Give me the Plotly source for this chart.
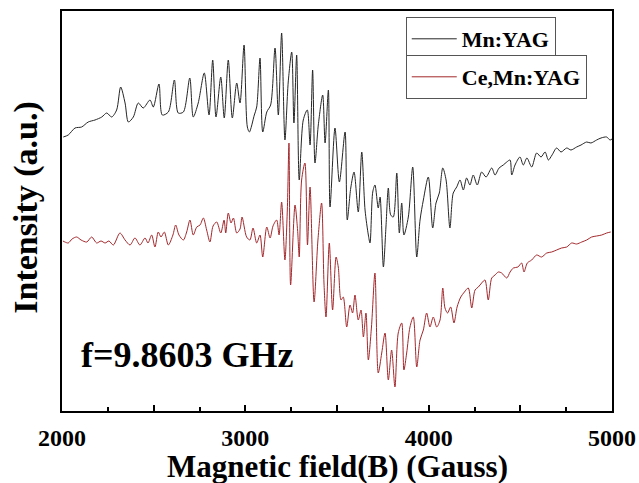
import plotly.graph_objects as go

# EPR spectra, 9.8603 GHz, field in Gauss, intensity in arbitrary units
field_mn = [2007, 2034, 2071, 2107, 2143, 2180, 2217, 2244, 2271, 2298, 2320, 2344, 2362, 2389,
            2416, 2443, 2480, 2498, 2529, 2547, 2580, 2613, 2634, 2662, 2697, 2716, 2743, 2776,
            2802, 2822, 2840, 2866, 2885, 2907, 2929, 2953, 2971, 2993, 3011, 3022, 3049, 3062,
            3080, 3095, 3117, 3138, 3162, 3180, 3198, 3216, 3234, 3253, 3265, 3280, 3294, 3316,
            3338, 3353, 3367, 3380, 3398, 3422, 3435, 3453, 3462, 3489, 3513, 3544, 3556, 3575,
            3593, 3616, 3635, 3653, 3671, 3680, 3695, 3707, 3725, 3735, 3753, 3767, 3780, 3793,
            3807, 3826, 3840, 3853, 3865, 3889, 3913, 3935, 3953, 3971, 3998, 4022, 4040, 4058,
            4077, 4095, 4116, 4134, 4153, 4171, 4189, 4207, 4225, 4243, 4265, 4289, 4313, 4344,
            4362, 4384, 4407, 4426, 4444, 4453, 4471, 4498, 4516, 4536, 4562, 4589, 4613, 4635,
            4653, 4673, 4698, 4722, 4753, 4776, 4807, 4831, 4862, 4885, 4916, 4940, 4971, 4989,
            5000]
intensity_mn = [274, 276, 283, 284, 289, 291, 294, 298, 294, 301, 324, 308, 289, 294,
                308, 303, 311, 304, 327, 296, 299, 331, 298, 299, 333, 294, 308, 338,
                296, 351, 294, 334, 293, 351, 293, 328, 308, 366, 284, 279, 296, 304,
                353, 279, 299, 306, 363, 296, 378, 271, 329, 359, 288, 356, 231, 291,
                301, 266, 341, 248, 286, 316, 268, 321, 204, 283, 229, 279, 191, 223,
                239, 199, 259, 201, 176, 168, 219, 226, 203, 214, 144, 184, 223, 196,
                194, 238, 178, 208, 176, 194, 244, 154, 191, 211, 234, 183, 208, 218,
                243, 231, 183, 218, 224, 231, 221, 233, 226, 236, 226, 239, 234, 243,
                236, 243, 246, 249, 251, 236, 246, 254, 246, 253, 244, 258, 254, 259,
                251, 256, 263, 259, 263, 261, 264, 266, 269, 268, 271, 273, 274, 271,
                272]

field_ce = [2005, 2016, 2034, 2055, 2080, 2104, 2135, 2162, 2189, 2213, 2235, 2256, 2280, 2316,
            2344, 2371, 2398, 2425, 2453, 2469, 2489, 2507, 2525, 2540, 2558, 2580, 2605, 2620,
            2638, 2662, 2680, 2698, 2716, 2735, 2753, 2771, 2789, 2807, 2824, 2844, 2866, 2884,
            2893, 2907, 2922, 2935, 2953, 2971, 2982, 3007, 3025, 3042, 3062, 3080, 3095, 3117,
            3135, 3151, 3171, 3184, 3198, 3216, 3229, 3238, 3247, 3271, 3285, 3294, 3307, 3325,
            3339, 3353, 3375, 3396, 3416, 3429, 3440, 3458, 3476, 3495, 3507, 3522, 3534, 3553,
            3571, 3585, 3598, 3616, 3631, 3644, 3658, 3671, 3688, 3707, 3725, 3744, 3762, 3780,
            3798, 3816, 3834, 3853, 3865, 3880, 3898, 3916, 3935, 3953, 3971, 3989, 4007, 4025,
            4044, 4062, 4077, 4089, 4103, 4120, 4138, 4155, 4175, 4195, 4216, 4235, 4253, 4271,
            4289, 4307, 4325, 4344, 4362, 4380, 4398, 4426, 4444, 4462, 4487, 4507, 4520, 4538,
            4562, 4589, 4616, 4644, 4671, 4698, 4725, 4753, 4780, 4807, 4835, 4862, 4889, 4916,
            4944, 4971, 4993]
intensity_ce = [170, 169, 168, 172, 174, 171, 169, 174, 168, 170, 168, 170, 166, 178,
                171, 166, 173, 166, 173, 168, 176, 164, 179, 174, 179, 166, 176, 186,
                176, 171, 179, 191, 176, 184, 186, 193, 181, 169, 185, 189, 178, 191,
                178, 198, 188, 193, 178, 182, 194, 174, 171, 183, 168, 176, 154, 184,
                173, 185, 191, 176, 209, 151, 201, 268, 126, 206, 181, 154, 231, 248,
                166, 224, 109, 171, 208, 128, 94, 168, 101, 154, 144, 111, 114, 84,
                106, 98, 116, 91, 101, 74, 98, 51, 84, 138, 38, 58, 78, 31,
                61, 24, 78, 88, 41, 58, 84, 94, 44, 71, 81, 98, 84, 94,
                84, 91, 123, 103, 98, 104, 88, 104, 114, 119, 123, 103, 121, 124,
                128, 131, 111, 133, 136, 139, 138, 133, 139, 143, 144, 148, 139, 148,
                151, 156, 154, 158, 159, 161, 163, 164, 168, 167, 169, 171, 174, 175,
                176, 178, 179]

tick_vals = [2000, 2500, 3000, 3500, 4000, 4500, 5000]
tick_text = ["2000", "", "3000", "", "4000", "", "5000"]

serif = "Liberation Serif"

fig = go.Figure()
fig.add_trace(go.Scatter(x=field_mn, y=intensity_mn, mode="lines", name="Mn:YAG",
                         line=dict(color="#262626", width=1, shape="spline", smoothing=0.8),
                         legend="legend", showlegend=True))
fig.add_trace(go.Scatter(x=field_ce, y=intensity_ce, mode="lines", name="Ce,Mn:YAG",
                         line=dict(color="#a3282c", width=1, shape="spline", smoothing=0.8),
                         legend="legend2", showlegend=True))

legend_style = dict(font=dict(family=serif, size=22, color="black", weight="bold"),
                    bordercolor="#555555", borderwidth=1, bgcolor="white",
                    xanchor="left", yanchor="top", tracegroupgap=0, itemwidth=45,
                    visible=True)

fig.update_layout(
    width=639, height=483,
    showlegend=True,
    margin=dict(l=62, r=27, t=11, b=72, autoexpand=False),
    plot_bgcolor="white", paper_bgcolor="white",
    font=dict(family=serif, color="black"),
    legend=dict(x=0.625, y=0.985, **legend_style),
    legend2=dict(x=0.625, y=0.89, **legend_style),
    xaxis=dict(range=[2000, 5000], tickmode="array", tickvals=tick_vals, ticktext=tick_text,
               ticks="inside", ticklen=6, tickwidth=1.5, tickcolor="black",
               minor=dict(tickvals=[2250, 2750, 3250, 3750, 4250, 4750], ticks="inside",
                          ticklen=4, tickwidth=1.5, tickcolor="black"),
               showline=True, linecolor="black", linewidth=1.5, mirror=True,
               showgrid=False, zeroline=False, ticklabelstandoff=4, automargin=False,
               tickfont=dict(family=serif, size=24, color="black", weight="bold")),
    yaxis=dict(range=[0, 400], showticklabels=False, ticks="", automargin=False,
               showline=True, linecolor="black", linewidth=1.5, mirror=True,
               showgrid=False, zeroline=False),
    annotations=[
        dict(text="Magnetic field(B) (Gauss)", xref="paper", yref="paper", x=0.5, y=-0.1375,
             xanchor="center", yanchor="middle", showarrow=False,
             font=dict(family=serif, size=31, color="black", weight="bold")),
        dict(text="Intensity (a.u.)", xref="paper", yref="paper", x=-0.066, y=0.51,
             xanchor="center", yanchor="middle", textangle=-90, showarrow=False,
             font=dict(family=serif, size=34, color="black", weight="bold")),
        dict(text="f=9.8603 GHz", xref="paper", yref="paper", x=0.03, y=0.14,
             xanchor="left", yanchor="middle", showarrow=False,
             font=dict(family=serif, size=36, color="black", weight="bold")),
    ],
)

fig.write_html("out.html")
